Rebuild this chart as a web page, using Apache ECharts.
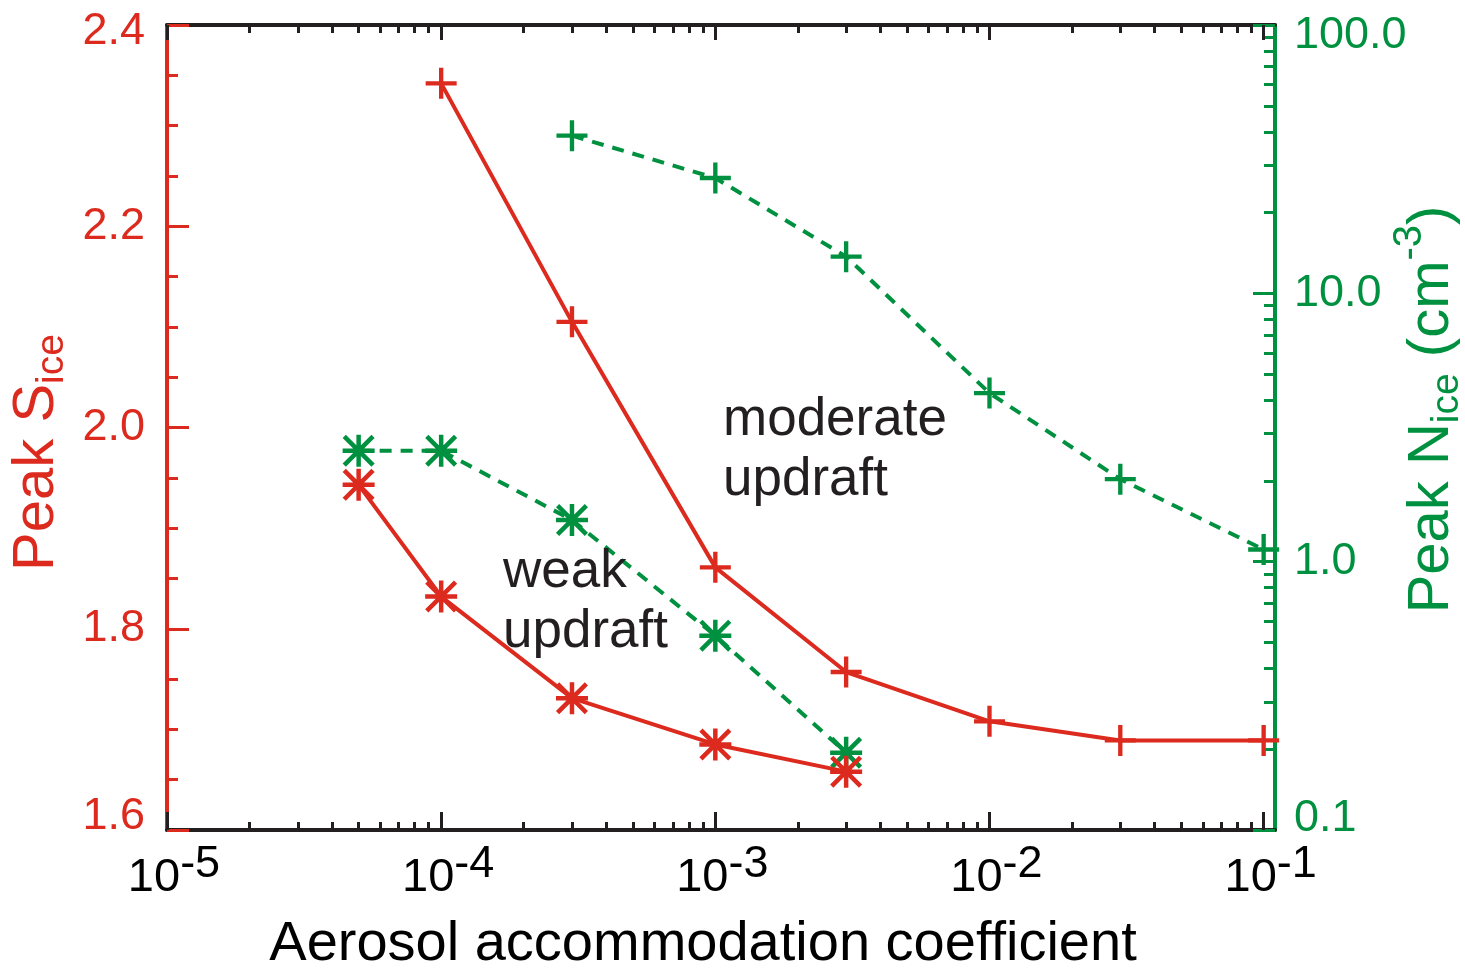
<!DOCTYPE html>
<html>
<head>
<meta charset="utf-8">
<script src="https://cdn.jsdelivr.net/npm/echarts@6/dist/echarts.min.js"></script>
<style>
html,body{margin:0;padding:0;background:#fff;}
#chart{width:1465px;height:974px;}
</style>
</head>
<body>
<div id="chart"></div>
<script>
// ---- data ----
const xModerate = [1e-4, 3e-4, 1e-3, 3e-3, 1e-2, 3e-2, 1e-1];
const sModerate = [2.342, 2.105, 1.861, 1.757, 1.708, 1.689, 1.689];
const xModerateN = [3e-4, 1e-3, 3e-3, 1e-2, 3e-2, 1e-1];
const nModerate = [38.7, 26.9, 13.7, 4.25, 2.03, 1.11];
const xWeak = [5e-5, 1e-4, 3e-4, 1e-3, 3e-3];
const sWeak = [1.943, 1.832, 1.731, 1.685, 1.658];
const nWeak = [2.59, 2.59, 1.43, 0.53, 0.194];
const xMajorTicks = [1e-5, 1e-4, 1e-3, 1e-2, 1e-1];
const yRightMajorTicks = [0.1, 1, 10, 100];
const annotationModerate = 'moderate\nupdraft';
const annotationWeak = 'weak\nupdraft';

const RED = '#dc2a1e';
const GREEN = '#009140';
const BLACK = '#231f20';
const FONT = '"Liberation Sans", Arial, Helvetica, sans-serif';

function minorLog(lo, hi) {
  const out = [];
  for (let e = lo; e < hi; e++) {
    for (let k = 2; k <= 9; k++) out.push(+(k * Math.pow(10, e)).toPrecision(3));
  }
  return out;
}
const xMinorTicks = minorLog(-5, -1);
const yRightMinorTicks = minorLog(-1, 2);

const PLUS = 'path://M43,0 H57 V43 H100 V57 H57 V100 H43 V57 H0 V43 H43 Z';
const STAR = 'path://M43,0 H57 V43 H100 V57 H57 V100 H43 V57 H0 V43 H43 Z ' +
  'M10,0 L100,90 L90,100 L0,10 Z ' +
  'M90,0 L100,10 L10,100 L0,90 Z';

const zip = (xs, ys) => xs.map((x, i) => [x, ys[i]]);

const chart = echarts.init(document.getElementById('chart'), null, {renderer: 'canvas'});

const xMin = 1e-5, xMax = 0.11;
function xAxisBase(pos) {
  return {type: 'log', position: pos, min: xMin, max: xMax, gridIndex: 0, splitLine: {show: false}, minorSplitLine: {show: false}};
}

function edgeRich(color, topPad, botPad) {
  return {
    n: {fontSize: 45, fontFamily: FONT, color: color},
    hi: {fontSize: 45, fontFamily: FONT, color: color, padding: [topPad, 0, 0, 0]},
    lo: {fontSize: 45, fontFamily: FONT, color: color, padding: [0, 0, botPad, 0]}
  };
}

const option = {
  animation: false,
  backgroundColor: '#fff',
  grid: {left: 167, right: 190, top: 25, bottom: 144, containLabel: false, outerBoundsMode: 'none'},
  xAxis: [
    Object.assign(xAxisBase('bottom'), {
      axisLine: {show: true, lineStyle: {color: BLACK, width: 4}},
      axisTick: {show: true, inside: true, length: 18, customValues: xMajorTicks, lineStyle: {color: BLACK, width: 3}},
      axisLabel: {
        show: true, customValues: xMajorTicks, margin: 12, padding: [0, 0, 0, 14],
        formatter: v => '{b|10}{s|' + Math.round(Math.log10(v)) + '}',
        rich: {
          b: {fontSize: 47, fontFamily: FONT, color: '#000', verticalAlign: 'bottom'},
          s: {fontSize: 45, fontFamily: FONT, color: '#000', verticalAlign: 'top', padding: [0, 0, 15, 0]}
        }
      },
      name: 'Aerosol accommodation coefficient',
      nameLocation: 'middle', nameGap: 87,
      nameTextStyle: {fontSize: 56, fontFamily: FONT, color: '#000', padding: [0, 36, 0, 0]}
    }),
    Object.assign(xAxisBase('bottom'), {
      axisLine: {show: false},
      axisTick: {show: true, inside: true, length: 8, customValues: xMinorTicks, lineStyle: {color: BLACK, width: 3}},
      axisLabel: {show: false}
    }),
    Object.assign(xAxisBase('top'), {
      axisLine: {show: true, lineStyle: {color: BLACK, width: 4}},
      axisTick: {show: true, inside: true, length: 15, customValues: xMajorTicks, lineStyle: {color: BLACK, width: 3}},
      axisLabel: {show: false}
    }),
    Object.assign(xAxisBase('top'), {
      axisLine: {show: false},
      axisTick: {show: true, inside: true, length: 8, customValues: xMinorTicks, lineStyle: {color: BLACK, width: 3}},
      axisLabel: {show: false}
    })
  ],
  yAxis: [
    {
      type: 'value', position: 'left', min: 1.6, max: 2.4, interval: 0.2,
      axisLine: {show: true, lineStyle: {color: RED, width: 4}},
      axisTick: {show: true, inside: true, length: 22, lineStyle: {color: RED, width: 3}},
      minorTick: {show: true, splitNumber: 4, length: 11, lineStyle: {color: RED, width: 3}},
      splitLine: {show: false}, minorSplitLine: {show: false},
      axisLabel: {
        color: RED, fontSize: 45, fontFamily: FONT, margin: 22,
        formatter: v => {
          const t = v.toFixed(1);
          if (Math.abs(v - 2.4) < 1e-9) return '{hi|' + t + '}';
          if (Math.abs(v - 1.6) < 1e-9) return '{lo|' + t + '}';
          return '{n|' + t + '}';
        },
        rich: edgeRich(RED, 14, 26)
      },
      name: '{a|Peak S}{b|ice}',
      nameLocation: 'middle', nameGap: 93, nameRotate: 90,
      nameTextStyle: {
        padding: [0, 50, 0, 0],
        rich: {
          a: {fontSize: 58, fontFamily: FONT, color: RED, lineHeight: 58, verticalAlign: 'top'},
          b: {fontSize: 39, fontFamily: FONT, color: RED, lineHeight: 39, verticalAlign: 'top', padding: [25, 0, 0, 0]}
        }
      }
    },
    {
      type: 'log', position: 'right', min: 0.1, max: 100,
      axisLine: {show: true, lineStyle: {color: GREEN, width: 4}},
      axisTick: {show: true, inside: true, length: 22, customValues: yRightMajorTicks, lineStyle: {color: GREEN, width: 3}},
      splitLine: {show: false}, minorSplitLine: {show: false},
      axisLabel: {
        customValues: yRightMajorTicks, color: GREEN, fontSize: 45, fontFamily: FONT, margin: 19,
        formatter: v => {
          const t = (+v).toFixed(1);
          if (Math.abs(v - 100) < 1e-6) return '{hi|' + t + '}';
          if (Math.abs(v - 0.1) < 1e-9) return '{lo|' + t + '}';
          return '{n|' + t + '}';
        },
        rich: edgeRich(GREEN, 22, 22)
      },
      name: '{a|Peak N}{b|ice}{a| (cm}{c|-3}{a|)}',
      nameLocation: 'middle', nameGap: 115, nameRotate: 90, nameMoveOverlap: false,
      nameTextStyle: {
        padding: [0, 0, 0, 36],
        rich: {
          a: {fontSize: 58, fontFamily: FONT, color: GREEN, lineHeight: 58, verticalAlign: 'top', padding: [13, 0, 0, 0]},
          b: {fontSize: 39, fontFamily: FONT, color: GREEN, lineHeight: 39, verticalAlign: 'top', padding: [38, 0, 0, 0]},
          c: {fontSize: 40, fontFamily: FONT, color: GREEN, lineHeight: 40, verticalAlign: 'top', padding: [0, 0, 0, 0]}
        }
      }
    },
    {
      type: 'log', position: 'right', min: 0.1, max: 100,
      axisLine: {show: false},
      axisTick: {show: true, inside: true, length: 11, customValues: yRightMinorTicks, lineStyle: {color: GREEN, width: 3}},
      splitLine: {show: false}, minorSplitLine: {show: false},
      axisLabel: {show: false}
    }
  ],
  series: [
    {
      name: 'S moderate', type: 'line', xAxisIndex: 0, yAxisIndex: 0,
      data: zip(xModerate, sModerate),
      symbol: PLUS, symbolSize: 31, showAllSymbol: true,
      lineStyle: {color: RED, width: 4}, itemStyle: {color: RED}, z: 3
    },
    {
      name: 'S weak', type: 'line', xAxisIndex: 0, yAxisIndex: 0,
      data: zip(xWeak, sWeak),
      symbol: STAR, symbolSize: 32, showAllSymbol: true,
      lineStyle: {color: RED, width: 4}, itemStyle: {color: RED}, z: 3
    },
    {
      name: 'N moderate', type: 'line', xAxisIndex: 0, yAxisIndex: 1,
      data: zip(xModerateN, nModerate),
      symbol: PLUS, symbolSize: 31, showAllSymbol: true,
      lineStyle: {color: GREEN, width: 4, type: [12, 9]}, itemStyle: {color: GREEN}, z: 2
    },
    {
      name: 'N weak', type: 'line', xAxisIndex: 0, yAxisIndex: 1,
      data: zip(xWeak, nWeak),
      symbol: STAR, symbolSize: 32, showAllSymbol: true,
      lineStyle: {color: GREEN, width: 4, type: [12, 9]}, itemStyle: {color: GREEN}, z: 2
    }
  ],
  graphic: [
    {type: 'text', left: 723, top: 390, z: 100,
     style: {text: annotationModerate, font: '53px ' + FONT, fill: BLACK, lineHeight: 60}},
    {type: 'text', left: 503, top: 542, z: 100,
     style: {text: annotationWeak, font: '53px ' + FONT, fill: BLACK, lineHeight: 60}}
  ]
};
chart.setOption(option);
</script>
</body>
</html>
